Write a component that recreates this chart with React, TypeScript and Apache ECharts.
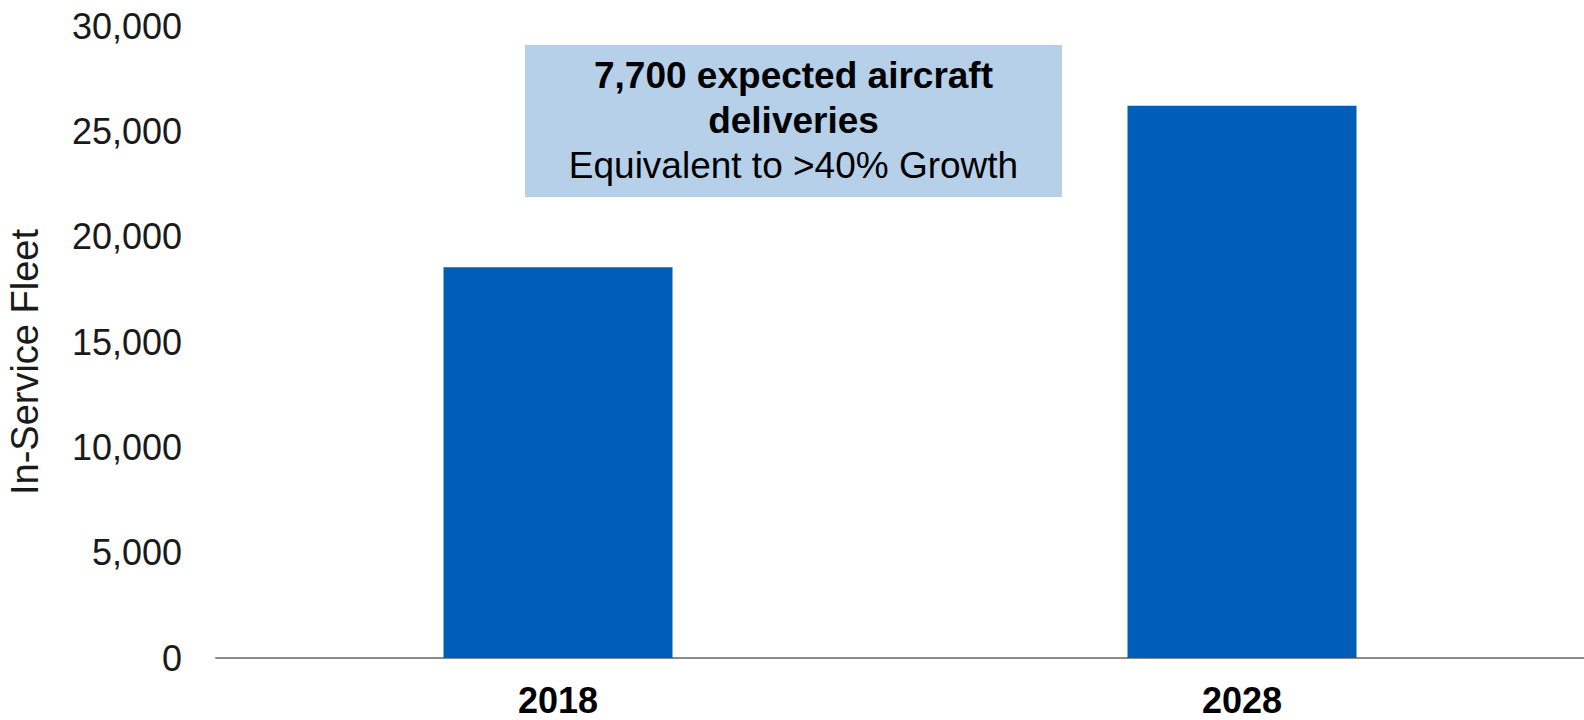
import React, { useEffect, useRef } from "react";
import * as echarts from "echarts";

const categories = ["2018", "2028"];
const fleetValues = [18550, 26220];
const yTicks = { min: 0, max: 30000, interval: 5000 };
const axisName = "In-Service Fleet";
const boxLines = ["7,700 expected aircraft", "deliveries", "Equivalent to >40% Growth"];

const FONT = "'Liberation Sans', Arial, Helvetica, sans-serif";

export default function App() {
  const ref = useRef<HTMLDivElement>(null);
  useEffect(() => {
    if (!ref.current) return;
    const chart = echarts.init(ref.current, null, { renderer: "svg" });
    chart.setOption({
      animation: false,
      backgroundColor: "#ffffff",
      grid: { left: 216, right: 0, top: 26, bottom: 62, containLabel: false },
      xAxis: {
        type: "category",
        data: categories,
        axisLine: { show: true, lineStyle: { color: "#8a8a8a", width: 2 } },
        axisTick: { show: false },
        axisLabel: {
          margin: 24,
          fontFamily: FONT,
          fontSize: 36,
          lineHeight: 36,
          fontWeight: "bold",
          color: "#000000",
        },
      },
      yAxis: {
        type: "value",
        min: yTicks.min,
        max: yTicks.max,
        interval: yTicks.interval,
        splitLine: { show: false },
        axisLine: { show: false },
        axisTick: { show: false },
        axisLabel: {
          margin: 34,
          fontFamily: FONT,
          fontSize: 36,
          color: "#1a1a1a",
          formatter: (v: number) => v.toLocaleString("en-US"),
        },
      },
      series: [
        {
          type: "bar",
          data: fleetValues,
          barWidth: 229,
          itemStyle: { color: "#005EB8" },
        },
      ],
      graphic: [
        {
          type: "text",
          x: 25,
          y: 362,
          rotation: Math.PI / 2,
          style: {
            text: axisName,
            fontFamily: FONT,
            fontSize: 38,
            fill: "#1a1a1a",
            align: "center",
            verticalAlign: "middle",
          },
        },
        {
          type: "rect",
          shape: { x: 525, y: 45, width: 537, height: 152 },
          style: { fill: "#B7D0E9" },
        },
        {
          type: "text",
          x: 793.5,
          y: 75,
          style: {
            text: boxLines[0],
            fontFamily: FONT,
            fontSize: 37,
            fontWeight: "bold",
            fill: "#000000",
            align: "center",
            verticalAlign: "middle",
          },
        },
        {
          type: "text",
          x: 793.5,
          y: 120,
          style: {
            text: boxLines[1],
            fontFamily: FONT,
            fontSize: 37,
            fontWeight: "bold",
            fill: "#000000",
            align: "center",
            verticalAlign: "middle",
          },
        },
        {
          type: "text",
          x: 793.5,
          y: 165.5,
          style: {
            text: boxLines[2],
            fontFamily: FONT,
            fontSize: 37,
            fill: "#000000",
            align: "center",
            verticalAlign: "middle",
          },
        },
      ],
    });
    return () => chart.dispose();
  }, []);
  return (
    <div
      ref={ref}
      style={{ position: "absolute", left: 0, top: 0, width: 1584, height: 720 }}
    />
  );
}
